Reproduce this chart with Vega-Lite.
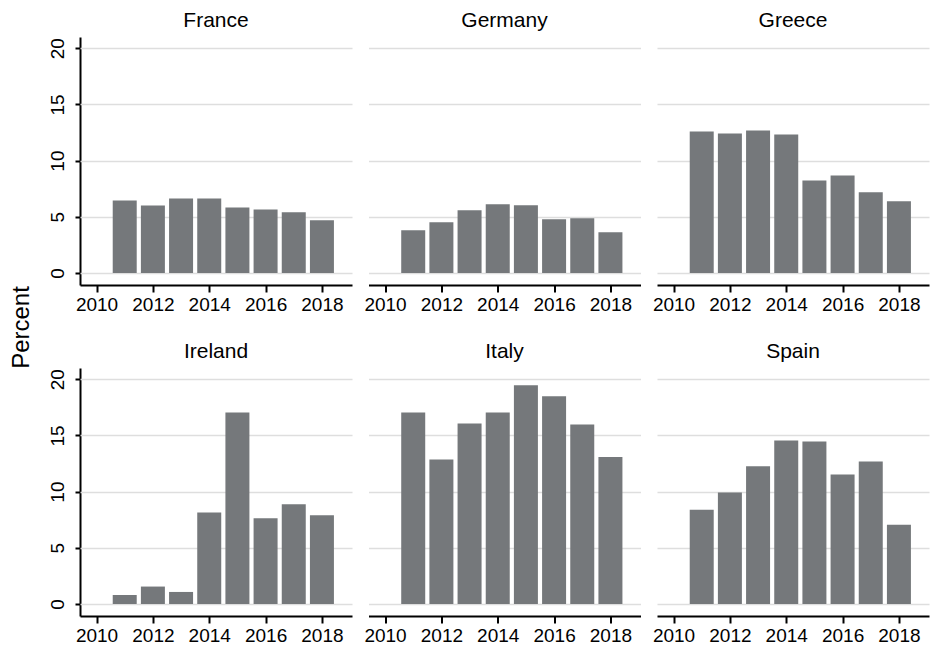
{
  "$schema": "https://vega.github.io/schema/vega-lite/v6.json",
  "background": "white",
  "padding": {"left": 10, "top": 10, "right": 2, "bottom": 3},
  "bounds": "flush",
  "config": {
    "view": {"stroke": null},
    "font": "Liberation Sans",
    "axis": {
      "domainColor": "black",
      "domainWidth": 2,
      "tickColor": "black",
      "tickWidth": 2,
      "labelFontSize": 19,
      "labelColor": "black",
      "gridColor": "#dedede",
      "gridWidth": 1.5
    }
  },
  "title": {"text": "Percent", "orient": "left", "anchor": "middle", "fontSize": 24, "fontWeight": "normal", "color": "black", "offset": 14},
  "data": {
    "values": [
      {"country": "France", "year": 2011, "value": 6.45},
      {"country": "France", "year": 2012, "value": 6.0},
      {"country": "France", "year": 2013, "value": 6.63},
      {"country": "France", "year": 2014, "value": 6.63},
      {"country": "France", "year": 2015, "value": 5.82},
      {"country": "France", "year": 2016, "value": 5.65},
      {"country": "France", "year": 2017, "value": 5.41},
      {"country": "France", "year": 2018, "value": 4.7},
      {"country": "Germany", "year": 2011, "value": 3.8},
      {"country": "Germany", "year": 2012, "value": 4.52},
      {"country": "Germany", "year": 2013, "value": 5.59},
      {"country": "Germany", "year": 2014, "value": 6.12},
      {"country": "Germany", "year": 2015, "value": 6.03},
      {"country": "Germany", "year": 2016, "value": 4.78},
      {"country": "Germany", "year": 2017, "value": 4.87},
      {"country": "Germany", "year": 2018, "value": 3.63},
      {"country": "Greece", "year": 2011, "value": 12.6},
      {"country": "Greece", "year": 2012, "value": 12.42},
      {"country": "Greece", "year": 2013, "value": 12.69},
      {"country": "Greece", "year": 2014, "value": 12.33},
      {"country": "Greece", "year": 2015, "value": 8.23},
      {"country": "Greece", "year": 2016, "value": 8.68},
      {"country": "Greece", "year": 2017, "value": 7.19},
      {"country": "Greece", "year": 2018, "value": 6.39},
      {"country": "Ireland", "year": 2011, "value": 0.8},
      {"country": "Ireland", "year": 2012, "value": 1.55},
      {"country": "Ireland", "year": 2013, "value": 1.07},
      {"country": "Ireland", "year": 2014, "value": 8.15},
      {"country": "Ireland", "year": 2015, "value": 17.05},
      {"country": "Ireland", "year": 2016, "value": 7.62},
      {"country": "Ireland", "year": 2017, "value": 8.87},
      {"country": "Ireland", "year": 2018, "value": 7.89},
      {"country": "Italy", "year": 2011, "value": 17.05},
      {"country": "Italy", "year": 2012, "value": 12.86},
      {"country": "Italy", "year": 2013, "value": 16.07},
      {"country": "Italy", "year": 2014, "value": 17.05},
      {"country": "Italy", "year": 2015, "value": 19.46},
      {"country": "Italy", "year": 2016, "value": 18.48},
      {"country": "Italy", "year": 2017, "value": 15.98},
      {"country": "Italy", "year": 2018, "value": 13.07},
      {"country": "Spain", "year": 2011, "value": 8.39},
      {"country": "Spain", "year": 2012, "value": 9.91},
      {"country": "Spain", "year": 2013, "value": 12.26},
      {"country": "Spain", "year": 2014, "value": 14.55},
      {"country": "Spain", "year": 2015, "value": 14.46},
      {"country": "Spain", "year": 2016, "value": 11.52},
      {"country": "Spain", "year": 2017, "value": 12.68},
      {"country": "Spain", "year": 2018, "value": 7.05}
    ]
  },
  "facet": {
    "field": "country",
    "type": "nominal",
    "header": {"title": null, "labelFontSize": 21, "labelColor": "black", "labelPadding": 6, "labelFont": "Liberation Sans"}
  },
  "columns": 3,
  "spacing": {"row": 83, "column": 16.5},
  "spec": {
    "width": 272,
    "height": 248,
    "mark": {"type": "bar", "width": 24, "color": "#75787b"},
    "encoding": {
      "x": {
        "field": "year",
        "type": "quantitative",
        "scale": {"domain": [2009.59, 2018.89], "nice": false, "zero": false},
        "axis": {"title": null, "values": [2010, 2012, 2014, 2016, 2018], "format": "d", "grid": false, "tickSize": 7, "labelPadding": 3, "labelFlush": false}
      },
      "y": {
        "field": "value",
        "type": "quantitative",
        "scale": {"domain": [-1.07, 21], "nice": false, "zero": false},
        "axis": {"title": null, "values": [0, 5, 10, 15, 20], "tickSize": 5, "labelAngle": 270, "labelAlign": "center", "labelBaseline": "bottom", "labelPadding": 8, "grid": true}
      },
      "y2": {"datum": 0}
    }
  },
  "resolve": {"axis": {"x": "independent"}}
}
